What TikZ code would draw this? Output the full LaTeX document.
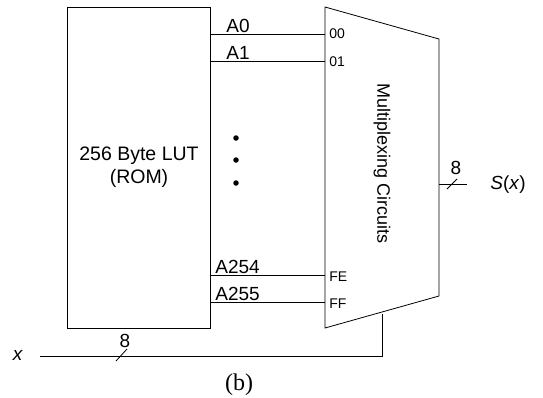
\documentclass[tikz,border=0pt]{standalone}
\usepackage{fontspec}
\setmainfont{Liberation Sans}
\newfontfamily\capfont{Liberation Serif}
\usetikzlibrary{positioning}

\begin{document}
\begin{tikzpicture}[x=1pt,y=-1pt,line width=0.8pt,
  rom/.style={draw,rectangle,minimum width=143pt,minimum height=321pt,align=center,font=\fontsize{19.5}{23}\selectfont,inner sep=0pt},
  addr/.style={anchor=south west,inner sep=1pt,font=\fontsize{19}{19}\selectfont},
  pin/.style={anchor=west,inner sep=0pt,font=\fontsize{14}{14}\selectfont},
  bus/.style={font=\fontsize{19}{19}\selectfont,inner sep=0pt},
  dot/.style={circle,fill,inner sep=0pt,minimum size=5.5pt}]
\useasboundingbox (0,0) rectangle (543,397);
\node[rom] (lut) at (139,167.5) {256 Byte LUT\\(ROM)};
% multiplexer outline
\coordinate (mtl) at (325,7); \coordinate (mtr) at (439,39);
\coordinate (mbr) at (439,296); \coordinate (mbl) at (325,328);
\draw (mtl) -- (mtr) -- (mbr) -- (mbl) -- cycle;
\node[rotate=-90,font=\fontsize{18}{18}\selectfont] (mux) at (382,164) {Multiplexing Circuits};
% inputs
\coordinate (i0) at (325,34); \coordinate (i1) at (325,61);
\coordinate (i254) at (325,275); \coordinate (i255) at (325,302);
\draw (i0 -| lut.east) -- (i0); \draw (i1 -| lut.east) -- (i1);
\draw (i254 -| lut.east) -- (i254); \draw (i255 -| lut.east) -- (i255);
\node[addr] (a0) at (225,34) {A0};
\node[addr] (a1) at (225,61) {A1};
\node[addr] (a254) at (214,275) {A254};
\node[addr] (a255) at (214,302) {A255};
\node[pin] (p0) at (329,34) {00};
\node[pin] (p1) at (329,62) {01};
\node[pin] (p254) at (329,277) {FE};
\node[pin] (p255) at (329,304) {FF};
\node[dot] (d1) at (236,138) {};
\node[dot] (d2) at (236,160) {};
\node[dot] (d3) at (236,183) {};
% output
\coordinate (o) at (439,184);
\node[bus,anchor=west] (sx) at (490,185) {\textit{S}(\textit{x})};
\draw (o) -- (467,184) coordinate (oend);
\draw (447,189) -- (457,179);
\node[bus] (w8o) at (456,168) {8};
% select input
\node[bus] (xin) at (18,355) {\textit{x}};
\coordinate (sel) at (382,314);
\draw (40,356) coordinate (xs) -- (xs -| sel) -- (sel);
\draw (116,361) -- (127,349);
\node[bus] (w8i) at (125,341) {8};
\node[font=\capfont\fontsize{24}{24}\selectfont,inner sep=0pt] (cap) at (239,385) {(b)};
\end{tikzpicture}
\end{document}
